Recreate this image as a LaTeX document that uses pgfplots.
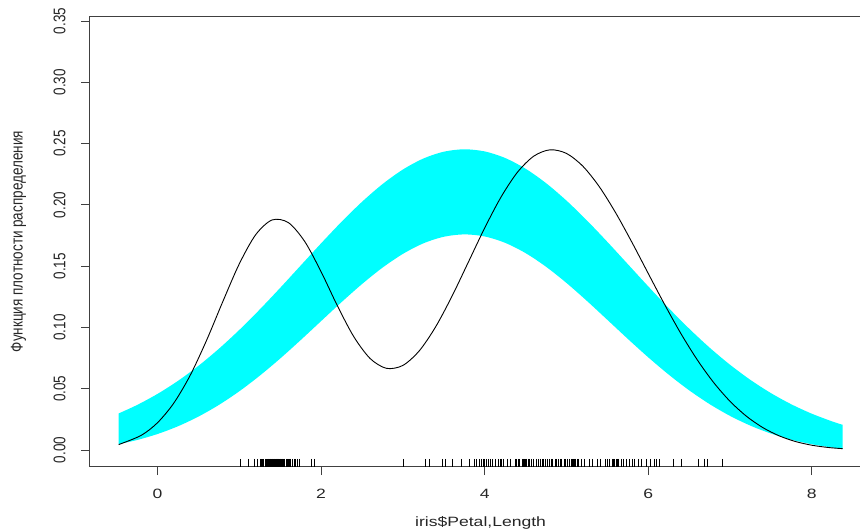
\documentclass[border=0pt]{standalone}
\usepackage{pgfplots}
\pgfplotsset{compat=1.18}
\usepgfplotslibrary{fillbetween}
\usepackage{graphicx}
\usepackage{fontspec}
\setmainfont{Liberation Sans}
\definecolor{band}{HTML}{00FFFF}
\begin{document}
\begin{tikzpicture}
\begin{axis}[
  at={(89.7pt,63.3pt)}, anchor=south west,
  scale only axis, width=781.8pt, height=450.1pt,
  xmin=-0.829, xmax=8.729, ymin=-0.0136, ymax=0.3536,
  axis line style={black!75, line width=0.8pt},
  tick style={black!75, line width=0.8pt},
  tick pos=left, tick align=outside, major tick length=8.5pt,
  xtick={0,2,4,6,8},
  ytick={0,0.05,0.1,0.15,0.2,0.25,0.3,0.35},
  /pgf/number format/assume math mode=true,
  font=\fontsize{13.5}{16}\selectfont,
  xticklabel={\scalebox{1.3}[1]{\pgfmathprintnumber{\tick}}},
  yticklabel={\scalebox{1}[1.25]{\pgfmathprintnumber[fixed,fixed zerofill,precision=2]{\tick}}},
  xticklabel style={anchor=north, inner sep=0pt, text=black!85},
  yticklabel style={rotate=90, anchor=south, inner sep=0pt, text=black!85},
  xticklabel shift=14pt,
  yticklabel shift=15.5pt,
  xlabel={\scalebox{1.3}[1]{iris\$Petal,Length}},
  ylabel={\scalebox{1}[1.25]{Функция плотности распределения}},
  xlabel style={at={(axis description cs:0.5,-0.1095)}, anchor=north, inner sep=0pt, text=black!85},
  ylabel style={at={(axis description cs:-0.081,0.5)}, rotate=0, anchor=south, inner sep=0pt, text=black!85},
]
% normal reference band (upper and lower limits)
\addplot[draw=none, smooth, name path=U] coordinates {
(-0.475,0.02986) (-0.25,0.03673) (0,0.04578) (0.25,0.05641) (0.5,0.06868) (0.75,0.08258) (1,0.09798) (1.25,0.11467) (1.5,0.13231) (1.75,0.15048) (2,0.16863) (2.25,0.18618) (2.5,0.20248) (2.75,0.21689) (3,0.22883) (3.25,0.23779) (3.5,0.24337) (3.75,0.24534) (4,0.24361) (4.25,0.23824) (4.5,0.22949) (4.75,0.21773) (5,0.20346) (5.25,0.18727) (5.5,0.16978) (5.75,0.15164) (6,0.13347) (6.25,0.11577) (6.5,0.09901) (6.75,0.08352) (7,0.06953) (7.25,0.05715) (7.5,0.04641) (7.75,0.03726) (8,0.02961) (8.25,0.02330) (8.375,0.02061)};
\addplot[draw=none, smooth, name path=L] coordinates {
(-0.475,0.00481) (-0.25,0.00816) (0,0.01307) (0.25,0.01939) (0.5,0.02727) (0.75,0.03679) (1,0.04794) (1.25,0.06065) (1.5,0.07467) (1.75,0.08968) (2,0.10519) (2.25,0.12066) (2.5,0.13540) (2.75,0.14875) (3,0.16001) (3.25,0.16860) (3.5,0.17399) (3.75,0.17592) (4,0.17423) (4.25,0.16904) (4.5,0.16065) (4.75,0.14953) (5,0.13630) (5.25,0.12163) (5.5,0.10620) (5.75,0.09066) (6,0.07561) (6.25,0.06151) (6.5,0.04871) (6.75,0.03745) (7,0.02783) (7.25,0.01985) (7.5,0.01343) (7.75,0.00844) (8,0.00470) (8.25,0.00200) (8.375,0.00099)};
\addplot[band, draw=none] fill between[of=U and L];
% density estimate
\addplot[black, line width=0.9pt, smooth] coordinates {
(-0.475,0.00444) (-0.2,0.01195) (0,0.02228) (0.2,0.03836) (0.4,0.06098) (0.6,0.08952) (0.8,0.12136) (1,0.15189) (1.2,0.17563) (1.4,0.18767) (1.6,0.18552) (1.8,0.17010) (2,0.14545) (2.2,0.11758) (2.4,0.09243) (2.6,0.07461) (2.8,0.06663) (3,0.06903) (3.2,0.08091) (3.4,0.10047) (3.6,0.12544) (3.8,0.15325) (4,0.18116) (4.2,0.20641) (4.4,0.22657) (4.6,0.23975) (4.8,0.24493) (5,0.24197) (5.2,0.23156) (5.4,0.21494) (5.6,0.19368) (5.8,0.16948) (6,0.14398) (6.2,0.11870) (6.4,0.09488) (6.6,0.07346) (6.8,0.05500) (7,0.03972) (7.2,0.02757) (7.4,0.01831) (7.6,0.01158) (7.8,0.00693) (8,0.00391) (8.2,0.00207) (8.375,0.00112)};
% rug
\addplot[only marks, mark=|, mark size=4pt, mark options={line width=0.8pt, black}] coordinates {
(1.01,-0.0105) (1.11,-0.0105) (1.18,-0.0105) (1.22,-0.0105)
(1.255,-0.0105) (1.27,-0.0105) (1.285,-0.0105) (1.30,-0.0105) (1.315,-0.0105) (1.33,-0.0105) (1.345,-0.0105)
(1.352,-0.0105) (1.36,-0.0105) (1.368,-0.0105) (1.376,-0.0105) (1.384,-0.0105) (1.392,-0.0105) (1.40,-0.0105) (1.408,-0.0105) (1.416,-0.0105) (1.424,-0.0105) (1.432,-0.0105) (1.44,-0.0105) (1.448,-0.0105)
(1.452,-0.0105) (1.46,-0.0105) (1.468,-0.0105) (1.476,-0.0105) (1.484,-0.0105) (1.492,-0.0105) (1.50,-0.0105) (1.508,-0.0105) (1.516,-0.0105) (1.524,-0.0105) (1.532,-0.0105) (1.54,-0.0105) (1.548,-0.0105)
(1.555,-0.0105) (1.57,-0.0105) (1.585,-0.0105) (1.60,-0.0105) (1.615,-0.0105) (1.63,-0.0105) (1.645,-0.0105)
(1.67,-0.0105) (1.69,-0.0105) (1.71,-0.0105) (1.73,-0.0105) (1.88,-0.0105) (1.92,-0.0105)
(3.01,-0.0105) (3.28,-0.0105) (3.32,-0.0105) (3.48,-0.0105) (3.52,-0.0105) (3.61,-0.0105) (3.71,-0.0105) (3.81,-0.0105)
(3.87,-0.0105) (3.90,-0.0105) (3.93,-0.0105) (3.96,-0.0105) (3.98,-0.0105) (4.00,-0.0105) (4.02,-0.0105) (4.04,-0.0105)
(4.07,-0.0105) (4.10,-0.0105) (4.13,-0.0105) (4.17,-0.0105) (4.19,-0.0105) (4.21,-0.0105) (4.23,-0.0105)
(4.28,-0.0105) (4.32,-0.0105) (4.37,-0.0105) (4.39,-0.0105) (4.41,-0.0105) (4.43,-0.0105)
(4.455,-0.0105) (4.47,-0.0105) (4.485,-0.0105) (4.495,-0.0105) (4.505,-0.0105) (4.515,-0.0105) (4.53,-0.0105) (4.545,-0.0105)
(4.57,-0.0105) (4.60,-0.0105) (4.63,-0.0105) (4.66,-0.0105) (4.68,-0.0105) (4.70,-0.0105) (4.72,-0.0105) (4.74,-0.0105)
(4.77,-0.0105) (4.79,-0.0105) (4.81,-0.0105) (4.83,-0.0105) (4.86,-0.0105) (4.88,-0.0105) (4.90,-0.0105) (4.92,-0.0105) (4.94,-0.0105)
(4.97,-0.0105) (4.99,-0.0105) (5.01,-0.0105) (5.03,-0.0105)
(5.055,-0.0105) (5.07,-0.0105) (5.085,-0.0105) (5.095,-0.0105) (5.105,-0.0105) (5.115,-0.0105) (5.13,-0.0105) (5.145,-0.0105)
(5.18,-0.0105) (5.22,-0.0105) (5.28,-0.0105) (5.32,-0.0105) (5.38,-0.0105) (5.42,-0.0105) (5.47,-0.0105) (5.50,-0.0105) (5.53,-0.0105)
(5.56,-0.0105) (5.575,-0.0105) (5.59,-0.0105) (5.61,-0.0105) (5.625,-0.0105) (5.64,-0.0105)
(5.67,-0.0105) (5.70,-0.0105) (5.73,-0.0105) (5.77,-0.0105) (5.80,-0.0105) (5.83,-0.0105) (5.88,-0.0105) (5.92,-0.0105)
(5.98,-0.0105) (6.02,-0.0105) (6.07,-0.0105) (6.10,-0.0105) (6.13,-0.0105) (6.31,-0.0105) (6.41,-0.0105) (6.61,-0.0105)
(6.68,-0.0105) (6.72,-0.0105) (6.91,-0.0105)};
\end{axis}
\pgfresetboundingbox
\path[use as bounding box] (0,0) rectangle (860pt,530pt);
\end{tikzpicture}
\end{document}
